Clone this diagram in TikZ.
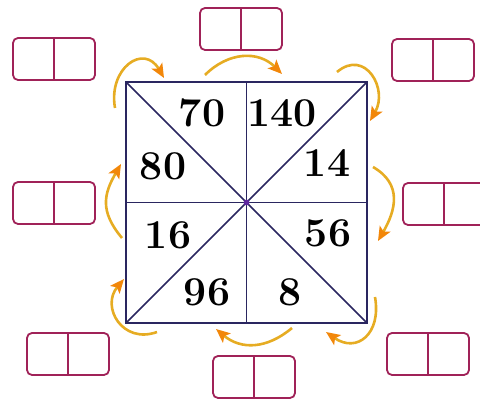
\documentclass[tikz,border=0pt]{standalone}
\usetikzlibrary{positioning,arrows.meta}
\definecolor{boxred}{RGB}{160,34,88}
\definecolor{arcgold}{RGB}{230,172,35}
\definecolor{tipor}{RGB}{242,135,10}
\definecolor{gridnavy}{RGB}{42,38,96}
\definecolor{dotpurple}{RGB}{95,40,160}
\begin{document}
\begin{tikzpicture}[x=1pt,y=1pt]
 % styles for the answer cells, numbers and turning arrows
 \tikzset{pair/.style={draw=boxred,line width=1.8pt,rounded corners=5pt,minimum width=82pt,minimum height=42pt,inner sep=0pt,outer sep=0pt,anchor=south west},
  num/.style={font=\fontsize{41}{41}\selectfont\bfseries,inner sep=0pt},
  turn/.style={arcgold,line width=2.6pt,-{Stealth[length=14pt,width=12pt,inset=3pt,color=tipor]}},
  edge/.style={gridnavy,line width=1.6pt}}
 \useasboundingbox (0,0) rectangle (480,399);

 %corners of the square
 \coordinate (sw) at (126,76);
 \coordinate (ne) at (367,317);
 \coordinate (nw) at (126,317);
 \coordinate (se) at (367,76);
 \coordinate (c) at (246.5,196.5);

 %draw square and its eight parts
 \draw[edge,line width=2pt] (sw) rectangle (ne);
 \draw[edge] (sw) -- (ne);
 \draw[edge] (nw) -- (se);
 \draw[edge] (c |- sw) -- (c |- ne);
 \draw[edge] (sw |- c) -- (ne |- c);
 \fill[dotpurple] (c) circle [radius=3pt];

 %numbers in the parts
 \node[num] (n70) at (202,286) {70};
 \node[num] (n140) at (282,286) {140};
 \node[num] (n80) at (163,233) {80};
 \node[num] (n14) at (327,236) {14};
 \node[num] (n16) at (168,164) {16};
 \node[num] (n56) at (328,166) {56};
 \node[num] (n96) at (207,107) {96};
 \node[num] (n8) at (290,107) {8};

 %pairs of empty cells
 \node[pair] (tl) at (13,319) {};
 \node[pair] (tc) at (200,349) {};
 \node[pair] (tr) at (392,318) {};
 \node[pair] (lm) at (13,175) {};
 \node[pair] (rm) at (403,174) {};
 \node[pair] (bl) at (27,24) {};
 \node[pair] (bc) at (213,1) {};
 \node[pair] (br) at (387,24) {};
 \foreach \p in {tl,tc,tr,lm,rm,bl,bc,br}
  \draw[boxred,line width=1.8pt] (\p.north) -- (\p.south);

 %turning arrows, clockwise
 \draw[turn] (115,291) to[out=100,in=120,looseness=1.8] (164,321);
 \draw[turn] (205,324) to[out=45,in=135,looseness=1.1] (282,325);
 \draw[turn] (337,327) to[out=40,in=60,looseness=1.6] (370,278);
 \draw[turn] (373,232) to[out=-30,in=60,looseness=1.2] (378,158);
 \draw[turn] (375,102) to[out=-80,in=-35,looseness=1.6] (326,67);
 \draw[turn] (292,71) to[out=-140,in=-40,looseness=1.1] (216,70);
 \draw[turn] (157,67) to[out=-160,in=-130,looseness=1.5] (124,120);
 \draw[turn] (122,161) to[out=130,in=-120,looseness=1.2] (121,235);
\end{tikzpicture}
\end{document}
